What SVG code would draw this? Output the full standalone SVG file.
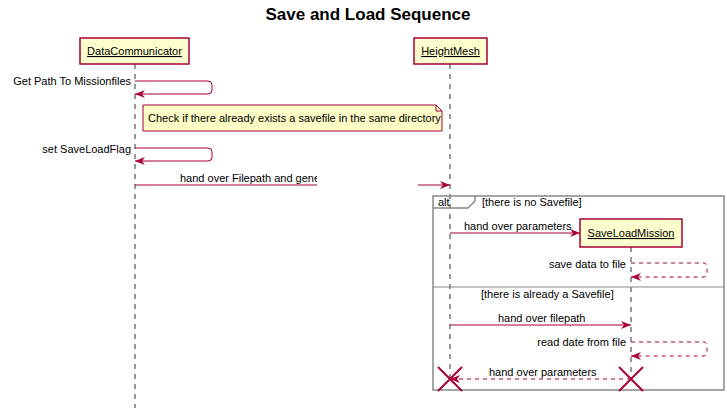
<svg xmlns="http://www.w3.org/2000/svg" width="727" height="408" viewBox="0 0 727 408">
<defs>
<style>
text{font-family:"Liberation Sans",Arial,sans-serif;font-size:11px;fill:#000}
.title{font-size:17px;font-weight:bold}
.part{fill:#FEFECE;stroke:#A80036;stroke-width:1.5}
.pt{font-size:11px;text-decoration:underline}
.life{stroke:#333;stroke-width:1;stroke-dasharray:5,5}
.msg{fill:none;stroke:#A80036;stroke-width:1}
.dash{stroke-dasharray:4,4}
.frame{fill:none;stroke:#888;stroke-width:1.5}
.x{stroke:#A80036;stroke-width:2}
</style>
<marker id="ah" markerWidth="10" markerHeight="8" refX="10" refY="4" orient="auto" markerUnits="userSpaceOnUse">
<path d="M0,0 L10,4 L0,8 L3,4 Z" fill="#A80036"/>
</marker>
</defs>
<rect width="727" height="408" fill="#fff"/>
<text class="title" x="368" y="20" text-anchor="middle">Save and Load Sequence</text>

<g id="lifelines">
<line class="life" x1="135" y1="64" x2="135" y2="408"/>
<line class="life" x1="450" y1="64" x2="450" y2="379"/>
<line class="life" x1="631" y1="247" x2="631" y2="379"/>
</g>

<g id="DataCommunicator">
<rect class="part" x="80" y="38" width="109" height="26"/>
<text class="pt" x="134.5" y="55" text-anchor="middle">DataCommunicator</text>
</g>
<g id="HeightMesh">
<rect class="part" x="414" y="38" width="73" height="26"/>
<text class="pt" x="450.5" y="55" text-anchor="middle">HeightMesh</text>
</g>

<g id="note">
<path d="M143,105 L436,105 L442,111 L442,131 L143,131 Z" fill="#FDFDC8" stroke="#A80036" stroke-width="1"/>
<path d="M436,105 L436,111 L442,111" fill="none" stroke="#A80036" stroke-width="1"/>
<text x="148" y="122">Check if there already exists a savefile in the same directory</text>
</g>

<g id="alt">
<rect class="frame" x="433" y="196" width="291" height="194"/>
<path d="M433,208 L468,208 L475,201 L475,196" fill="none" stroke="#888" stroke-width="1.5"/>
<text x="438" y="206">alt</text>
<text x="482" y="206">[there is no Savefile]</text>
<line x1="433" y1="287" x2="724" y2="287" stroke="#888" stroke-width="1"/>
<text x="481" y="298">[there is already a Savefile]</text>
</g>

<g id="SaveLoadMission">
<rect class="part" x="580" y="219" width="102" height="28"/>
<text class="pt" x="631" y="237" text-anchor="middle">SaveLoadMission</text>
</g>

<g id="connectors">
<path class="msg" d="M135,81 L208,81 Q212,81 212,85 L212,90 Q212,94 208,94 L135,94" marker-end="url(#ah)"/>
<text x="131" y="85" text-anchor="end">Get Path To Missionfiles</text>

<path class="msg" d="M135,148 L208,148 Q212,148 212,152 L212,157 Q212,161 208,161 L135,161" marker-end="url(#ah)"/>
<text x="131" y="153" text-anchor="end">set SaveLoadFlag</text>

<line class="msg" x1="135" y1="185" x2="317" y2="185"/>
<line class="msg" x1="418" y1="185" x2="450" y2="185" marker-end="url(#ah)"/>
<svg x="0" y="0" width="317" height="408" overflow="hidden"><text x="180" y="182">hand over Filepath and generate Savefile</text></svg>

<line class="msg" x1="450" y1="233" x2="580" y2="233" marker-end="url(#ah)"/>
<text x="464" y="230">hand over parameters</text>

<path class="msg dash" d="M631,263 L703,263 Q707,263 707,267 L707,273 Q707,277 703,277 L631,277" marker-end="url(#ah)"/>
<text x="626" y="268" text-anchor="end">save data to file</text>

<line class="msg" x1="450" y1="325" x2="631" y2="325" marker-end="url(#ah)"/>
<text x="498" y="322">hand over filepath</text>

<path class="msg dash" d="M631,342 L703,342 Q707,342 707,346 L707,352 Q707,356 703,356 L631,356" marker-end="url(#ah)"/>
<text x="626" y="346" text-anchor="end">read date from file</text>

<line class="msg dash" x1="631" y1="379" x2="450" y2="379" marker-end="url(#ah)"/>
<text x="489" y="376">hand over parameters</text>

<path class="x" d="M438,367 L462,391 M462,367 L438,391"/>
<path class="x" d="M619,367 L643,391 M643,367 L619,391"/>
</g>
</svg>
